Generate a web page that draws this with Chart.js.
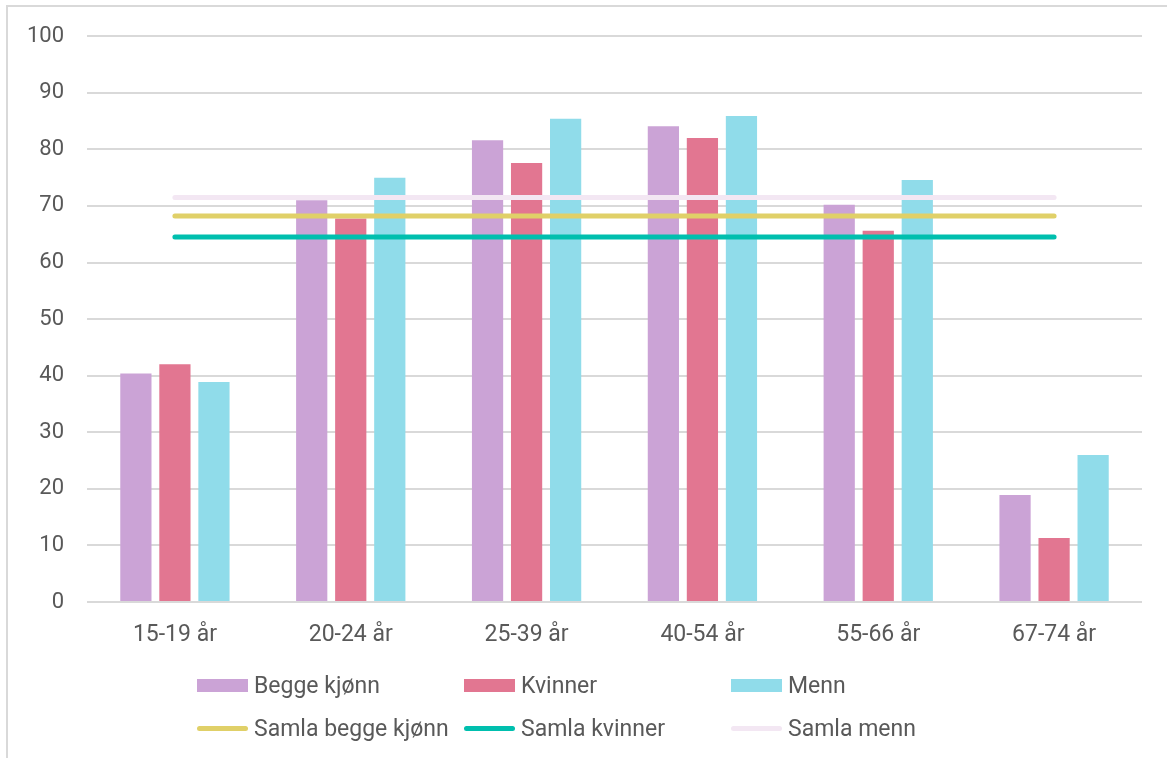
<!DOCTYPE html>
<html>
<head>
<meta charset="utf-8">
<script src="https://cdn.jsdelivr.net/npm/chart.js@4/dist/chart.umd.min.js"></script>
<style>
  html, body { margin: 0; padding: 0; background: #fff; overflow: hidden; }
  #ramme { position: absolute; left: 6px; top: 5px; width: 1200px; height: 800px; border: 2px solid #d9d9d9; }
  #wrap { position: absolute; left: 0; top: 0; width: 1167px; height: 758px; }
  #legende { position: absolute; left: 197px; top: 664px; display: grid;
    grid-template-columns: 267px 267px 267px; grid-auto-rows: 43px;
    font-family: Roboto, sans-serif; font-size: 23px; color: #595959; }
  .item { display: flex; align-items: center; white-space: nowrap; }
  .farge { display: inline-block; width: 51px; margin-right: 6px; }
</style>
</head>
<body>
<div id="ramme"></div>
<div id="wrap">
  <canvas id="sysselChart" width="1167" height="758"></canvas>
  <div id="legende"></div>
</div>
<script>
/*---- data ----- */
var aldersgrupper = ["15-19 år", "20-24 år", "25-39 år", "40-54 år", "55-66 år", "67-74 år"];
var beggeKjonn = [40.4, 71.0, 81.6, 84.1, 70.2, 18.9];
var kvinner = [42.0, 67.8, 77.6, 82.0, 65.6, 11.3];
var menn = [38.9, 75.0, 85.4, 85.9, 74.6, 26.0];
var samlaBegge = [68.2, 68.2, 68.2, 68.2, 68.2, 68.2];
var samlaKvinner = [64.5, 64.5, 64.5, 64.5, 64.5, 64.5];
var samlaMenn = [71.5, 71.5, 71.5, 71.5, 71.5, 71.5];
var yTicks = [0, 10, 20, 30, 40, 50, 60, 70, 80, 90, 100];

var tekstFarge = '#595959';
var gridFarge = '#d9d9d9';

function stolpe(navn, data, farge) {
    return {
        type: 'bar', label: navn, data: data,
        backgroundColor: farge, borderWidth: 0,
        categoryPercentage: 0.666, barPercentage: 0.8, order: 1
    };
}
function linje(navn, data, farge) {
    return {
        type: 'line', label: navn, data: data,
        borderColor: farge, backgroundColor: farge, borderWidth: 5,
        borderCapStyle: 'round', pointRadius: 0, fill: false, order: 0
    };
}

var ctx = document.getElementById('sysselChart').getContext('2d');
var sysselChart = new Chart(ctx, {
    type: 'bar',
    data: {
        labels: aldersgrupper,
        datasets: [
            stolpe("Begge kjønn", beggeKjonn, '#cba3d6'),
            stolpe("Kvinner", kvinner, '#e27691'),
            stolpe("Menn", menn, '#90dcea'),
            linje("Samla begge kjønn", samlaBegge, '#e0d068'),
            linje("Samla kvinner", samlaKvinner, '#00bfae'),
            linje("Samla menn", samlaMenn, '#f3e7f3')
        ]
    },
    options: {
        responsive: false,
        animation: false,
        layout: { padding: { top: 35, right: 25, left: 0, bottom: 0 } },
        plugins: {
            legend: { display: false },
            tooltip: { enabled: false }
        },
        scales: {
            x: {
                grid: { display: false, drawTicks: false },
                border: { display: false },
                ticks: { color: tekstFarge, font: { family: 'Roboto', size: 23 }, padding: 19, maxRotation: 0 },
                afterFit: function (scale) { scale.height = 156; }
            },
            y: {
                min: 0, max: 100,
                afterBuildTicks: function (scale) { scale.ticks = yTicks.map(function (v) { return { value: v }; }); },
                grid: { color: gridFarge, lineWidth: 2, drawTicks: false },
                border: { display: false },
                ticks: { color: tekstFarge, font: { family: 'Roboto', size: 22 }, padding: 23 },
                afterFit: function (scale) { scale.width = 87; }
            }
        }
    }
});

/*---- legende i tre kolonner ----- */
var legende = document.getElementById('legende');
sysselChart.data.datasets.forEach(function (ds) {
    var item = document.createElement('div');
    item.className = 'item';
    var f = document.createElement('span');
    f.className = 'farge';
    f.style.background = ds.backgroundColor;
    if (ds.type === 'line') { f.style.height = '5px'; f.style.borderRadius = '3px'; }
    else { f.style.height = '13px'; }
    item.appendChild(f);
    item.appendChild(document.createTextNode(ds.label));
    legende.appendChild(item);
});
</script>
</body>
</html>
